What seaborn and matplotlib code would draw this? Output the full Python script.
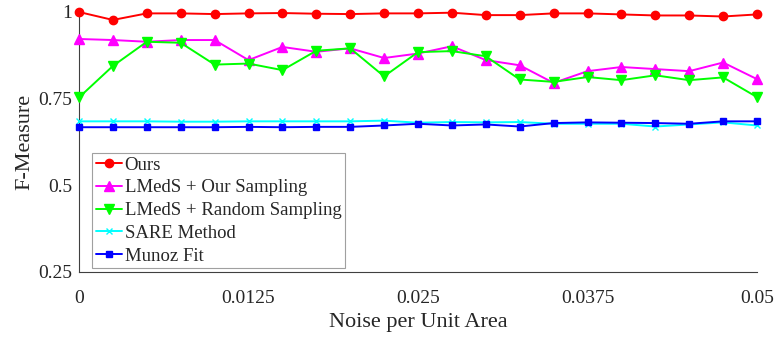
import numpy as np
import pandas as pd
import matplotlib
matplotlib.use("Agg")
import matplotlib.pyplot as plt
import seaborn as sns

# Noise levels (per unit area)
noise = [0.0, 0.0025, 0.005, 0.0075, 0.01, 0.0125, 0.015, 0.0175, 0.02, 0.0225,
         0.025, 0.0275, 0.03, 0.0325, 0.035, 0.0375, 0.04, 0.0425, 0.045, 0.0475, 0.05]

ours = [1.0, 0.977, 0.996, 0.996, 0.994, 0.996, 0.997, 0.995, 0.994, 0.996,
        0.996, 0.998, 0.991, 0.991, 0.996, 0.996, 0.993, 0.990, 0.990, 0.987, 0.993]
lmeds_our = [0.922, 0.919, 0.914, 0.919, 0.919, 0.861, 0.899, 0.885, 0.895, 0.867,
             0.880, 0.901, 0.861, 0.846, 0.795, 0.829, 0.841, 0.835, 0.829, 0.854, 0.806]
lmeds_rand = [0.753, 0.844, 0.914, 0.911, 0.848, 0.851, 0.832, 0.888, 0.895, 0.814,
              0.884, 0.887, 0.872, 0.805, 0.798, 0.812, 0.803, 0.817, 0.803, 0.811, 0.754]
sare = [0.684, 0.684, 0.684, 0.683, 0.683, 0.684, 0.684, 0.684, 0.684, 0.686,
        0.680, 0.682, 0.681, 0.682, 0.677, 0.677, 0.677, 0.669, 0.675, 0.681, 0.672]
munoz = [0.667, 0.667, 0.667, 0.667, 0.667, 0.668, 0.667, 0.668, 0.668, 0.672,
         0.677, 0.672, 0.675, 0.669, 0.679, 0.681, 0.680, 0.679, 0.677, 0.684, 0.684]

method_names = ["Ours", "LMedS + Our Sampling", "LMedS + Random Sampling",
                "SARE Method", "Munoz Fit"]
x_ticks = [0, 0.0125, 0.025, 0.0375, 0.05]
x_tick_labels = ["0", "0.0125", "0.025", "0.0375", "0.05"]
y_ticks = [0.25, 0.5, 0.75, 1.0]
y_tick_labels = ["0.25", "0.5", "0.75", "1"]

series = [ours, lmeds_our, lmeds_rand, sare, munoz]
df = pd.concat(
    [pd.DataFrame({"noise": noise, "F": vals, "method": name})
     for name, vals in zip(method_names, series)],
    ignore_index=True,
)

sns.set_style("white")
plt.rcParams["font.family"] = ["Liberation Serif", "DejaVu Serif"]

colors = {"Ours": "#ff0000", "LMedS + Our Sampling": "#ff00ff",
          "LMedS + Random Sampling": "#00ff00", "SARE Method": "#00ffff",
          "Munoz Fit": "#0000ff"}
markers = {"Ours": "o", "LMedS + Our Sampling": "^",
           "LMedS + Random Sampling": "v", "SARE Method": "x", "Munoz Fit": "s"}
msize = {"Ours": 6, "LMedS + Our Sampling": 6.5, "LMedS + Random Sampling": 6.5,
         "SARE Method": 4, "Munoz Fit": 5}

fig = plt.figure(figsize=(7.77, 3.37), dpi=100)
ax = fig.add_axes([79 / 777, 1 - 271.5 / 337, 678 / 777, 259.5 / 337])

for name in method_names:
    sub = df[df["method"] == name]
    sns.lineplot(data=sub, x="noise", y="F", ax=ax, color=colors[name],
                 marker=markers[name], markersize=msize[name],
                 markeredgecolor=colors[name], markeredgewidth=1.0,
                 linewidth=1.4, label=name, clip_on=False, zorder=3)

ax.set_xlim(0, 0.05)
ax.set_ylim(0.25, 1.0)
ax.set_xticks(x_ticks)
ax.set_xticklabels(x_tick_labels)
ax.set_yticks(y_ticks)
ax.set_yticklabels(y_tick_labels)
ax.set_xlabel("Noise per Unit Area", fontsize=16, color="#262626", labelpad=5)
ax.set_ylabel("F-Measure", fontsize=16, color="#262626")
ax.yaxis.set_label_coords(-0.066, 0.5)
ax.tick_params(axis="both", direction="in", length=5, width=0.8,
               color="#404040", labelsize=14, labelcolor="#262626")
ax.tick_params(axis="x", pad=13)
ax.tick_params(axis="y", pad=5)
for s in ["top", "right"]:
    ax.spines[s].set_visible(False)
for s in ["left", "bottom"]:
    ax.spines[s].set_color("#404040")
    ax.spines[s].set_linewidth(0.8)

leg = ax.legend(loc="lower left", bbox_to_anchor=(0.019, 0.012), fontsize=13.5,
                frameon=True, fancybox=False, edgecolor="#888888",
                handlelength=1.4, handletextpad=0.15, labelspacing=0.3,
                borderpad=0.2, borderaxespad=0)
leg.get_frame().set_linewidth(0.8)

fig.savefig("out.png", dpi=100)
